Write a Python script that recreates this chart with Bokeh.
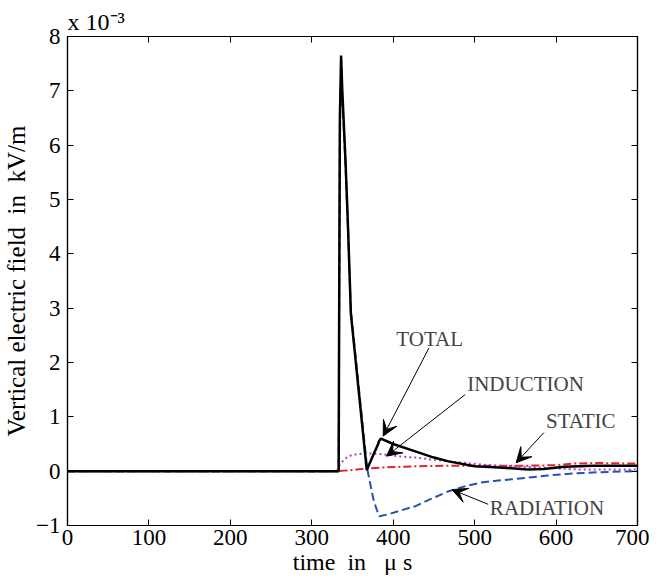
import numpy as np
from bokeh.plotting import figure
from bokeh.models import LinearAxis, Range1d, Arrow, VeeHead, Label, FixedTicker
from bokeh.embed import file_html
from bokeh.resources import INLINE

# field components, time in microseconds, values in 1e-3 kV/m
t_total = [0, 333, 333.5, 334.5, 336, 337.4, 341.5, 344.6, 348, 367.5, 375, 381.5,
           382.5, 385, 400, 428, 450, 468, 500, 525, 549, 565, 585, 610, 645, 700]
v_total = [0, 0, 2.4, 6.5, 7.65, 7.03, 5.68, 4.45, 2.9, 0.02, 0.28, 0.5,
           0.55, 0.6, 0.5, 0.36, 0.25, 0.18, 0.09, 0.07, 0.05, 0.03, 0.04, 0.08, 0.1, 0.1]

t_rad = [0, 333, 333.5, 334.5, 336, 337.4, 341.5, 344.6, 348, 368, 375.7, 380, 383,
         395, 410, 428, 445, 468, 490, 508, 524, 545, 565, 590, 613, 650, 700]
v_rad = [0, 0, 2.3, 6.3, 7.45, 6.9, 5.6, 4.4, 2.95, 0.05, -0.52, -0.72, -0.83,
         -0.79, -0.72, -0.64, -0.52, -0.37, -0.27, -0.21, -0.18, -0.15, -0.12, -0.08, -0.05, -0.02, 0.0]

t_ind = [0, 331, 333, 337, 342, 348, 355, 367, 388, 408, 428, 450, 468, 490,
         509, 530, 549, 589, 630, 700]
v_ind = [0, 0, 0.09, 0.17, 0.24, 0.29, 0.31, 0.33, 0.31, 0.27, 0.25, 0.21, 0.18, 0.15,
         0.12, 0.1, 0.09, 0.06, 0.03, 0.03]

t_stat = [0, 331, 340, 350, 367, 390, 428, 470, 525, 560, 600, 620, 650, 700]
v_stat = [0, 0, 0.01, 0.02, 0.05, 0.07, 0.09, 0.1, 0.1, 0.1, 0.11, 0.14, 0.15, 0.14]

x_ticks = [0, 100, 200, 300, 400, 500, 600, 700]
y_ticks = [-1, 0, 1, 2, 3, 4, 5, 6, 7, 8]

# annotations: (text, text x, text y, arrow start x, y, arrow end x, y)
notes = [
    ("TOTAL", 403.8, 2.44, 444, 2.27, 387.7, 0.645),
    ("INDUCTION", 490.8, 1.6, 488.4, 1.41, 391.7, 0.276),
    ("STATIC", 587.6, 0.915, 585, 0.71, 551, 0.155),
    ("RADIATION", 518.7, -0.67, 516.6, -0.61, 472.3, -0.34),
]

FONT = "Liberation Serif"
SP = "\u00a0"

p = figure(width=649, height=584, output_backend="svg", toolbar_location=None,
           x_range=Range1d(0, 700), y_range=Range1d(-1, 8),
           min_border_left=58, min_border_right=12, min_border_top=36, min_border_bottom=59)
p.grid.visible = False
p.outline_line_color = "black"
p.outline_line_width = 1.2

# exponent of the y scale, shown above the frame
p.title.text = "x 10\u207b\u00b3"
p.title.text_font = FONT
p.title.text_font_size = "24px"
p.title.text_font_style = "normal"
p.title.text_color = "black"
p.title.align = "left"
p.title.standoff = 4
p.title.offset = 0

p.line(t_stat, v_stat, color="#e8202a", line_width=2, line_dash="8 3 2 3")
p.line(t_ind, v_ind, color="#b040c0", line_width=2, line_dash="2 3")
p.line(t_rad, v_rad, color="#2850b0", line_width=2, line_dash="8 4")
p.line(t_total, v_total, color="black", line_width=2.5)

for ax in [p.xaxis[0], p.yaxis[0]]:
    ax.major_tick_in = 6
    ax.major_tick_out = 0
    ax.minor_tick_line_color = None
    ax.axis_line_width = 1.2
    ax.major_label_text_font = FONT
    ax.major_label_text_font_size = "23px"
    ax.major_label_text_color = "black"
    ax.axis_label_text_font = FONT
    ax.axis_label_text_font_style = "normal"
    ax.axis_label_text_color = "black"

p.xaxis[0].ticker = FixedTicker(ticks=x_ticks)
p.yaxis[0].ticker = FixedTicker(ticks=y_ticks)
p.xaxis[0].axis_label = "time" + SP + " in" + SP + SP + " \u03bc s"
p.yaxis[0].axis_label = "Vertical electric field" + SP + " in" + SP + " kV/m"
p.xaxis[0].axis_label_text_font_size = "24px"
p.yaxis[0].axis_label_text_font_size = "25px"
p.xaxis[0].major_label_standoff = 4
p.xaxis[0].axis_label_standoff = 1
p.yaxis[0].major_label_standoff = 7
p.yaxis[0].axis_label_standoff = 3

# mirrored ticks on top and right, no labels
top = LinearAxis(ticker=FixedTicker(ticks=x_ticks), major_label_text_font_size="1px",
                 major_label_text_color=None, major_tick_in=6, major_tick_out=0,
                 minor_tick_line_color=None, major_label_standoff=0, axis_line_width=1.2)
right = LinearAxis(ticker=FixedTicker(ticks=y_ticks), major_label_text_font_size="1px",
                   major_label_text_color=None, major_tick_in=6, major_tick_out=0,
                   minor_tick_line_color=None, major_label_standoff=0, axis_line_width=1.2)
p.add_layout(top, "above")
p.add_layout(right, "right")

for txt, tx, ty, x0, y0, x1, y1 in notes:
    p.add_layout(Arrow(end=VeeHead(size=15, fill_color="black", line_color="black"),
                       x_start=x0, y_start=y0, x_end=x1, y_end=y1,
                       line_color="black", line_width=1))
    p.add_layout(Label(x=tx, y=ty, text=txt, text_font=FONT, text_font_size="21px",
                       text_baseline="middle", text_align="left"))

open("out.html", "w").write(file_html(p, INLINE))
